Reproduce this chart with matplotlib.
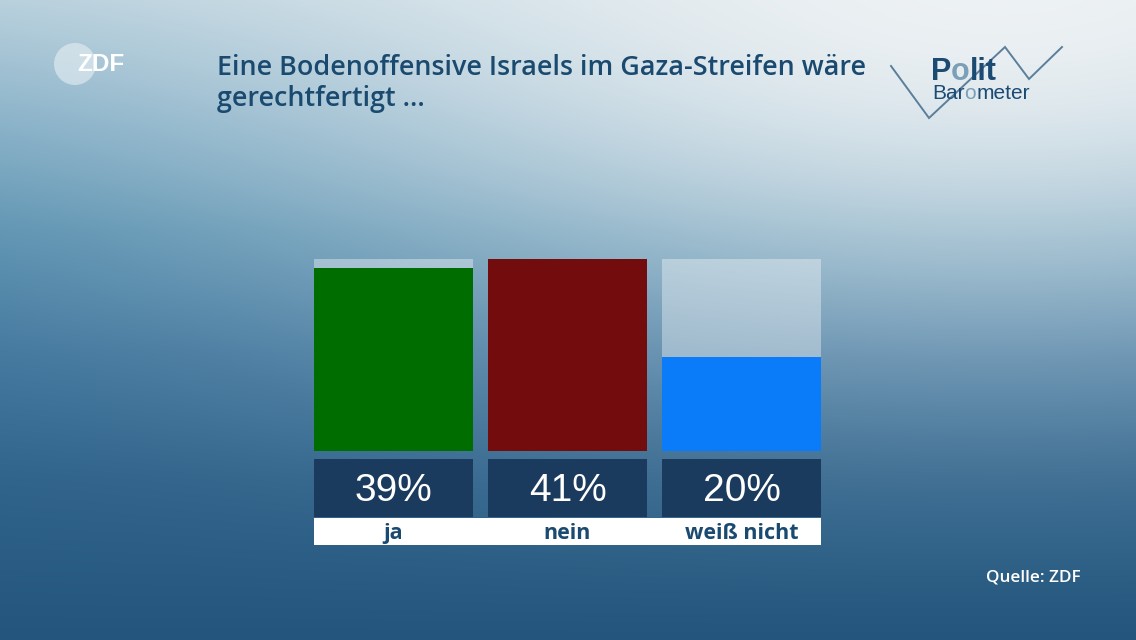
import numpy as np
import matplotlib
matplotlib.use("Agg")
import matplotlib.pyplot as plt
from matplotlib.colors import to_rgb
from matplotlib.patches import Circle, Rectangle

# ---- data ----
categories = ["ja", "nein", "weiß nicht"]
values = [39, 41, 20]
value_labels = ["39%", "41%", "20%"]
bar_colors = ["#006d00", "#720c0d", "#0a7bf9"]
title_lines = ["Eine Bodenoffensive Israels im Gaza-Streifen wäre", "gerechtfertigt ..."]
source = "Quelle: ZDF"

W, H = 1136, 640
fig = plt.figure(figsize=(W / 100, H / 100), dpi=100)
renderer = fig.canvas.get_renderer()

def px_axes(x0, y0, x1, y1, **kw):
    return fig.add_axes([x0 / W, 1 - y1 / H, (x1 - x0) / W, (y1 - y0) / H], **kw)

def fit_width(t, target_px):
    w = t.get_window_extent(renderer=renderer).width
    t.set_fontsize(t.get_fontsize() * target_px / w)

# ---- background gradient ----
bg = px_axes(0, 0, W, H)
xs = np.arange(W)[None, :] + 0.5
ys = np.arange(H)[:, None] + 0.5
v = ys / H
stops_v = [0.0, 0.2, 0.36, 0.55, 0.75, 1.0]
stops_c = np.array([to_rgb(c) for c in ["#abc8d7", "#74a4bf", "#4f8aab", "#3b729a", "#2d6189", "#24567d"]])
base = np.stack([np.interp(v[:, 0], stops_v, stops_c[:, k]) for k in range(3)], axis=-1)[:, None, :]
d2 = ((xs - 1000) / 800) ** 2 + ((ys + 50) / 450) ** 2
g = (np.exp(-d2) * (1 - v ** 2))[..., None]
white = np.array(to_rgb("#eef2f4"))[None, None, :]
img = base * (1 - g) + white * g
bg.imshow(img, extent=(0, W, H, 0), aspect="auto", interpolation="bilinear")
bg.set_xlim(0, W)
bg.set_ylim(H, 0)
bg.axis("off")

# ZDF logo
bg.add_patch(Circle((75, 64), 21, color="#e4eef2", alpha=0.62, lw=0))
bg.text(101, 64.5, "ZDF", color="white", fontsize=17.5, fontweight="bold",
        family="Liberation Sans", ha="center", va="center")

# Politbarometer logo
zx = [891, 929, 1005, 1029, 1062]
zy = [66, 118, 47, 79, 47]
bg.plot(zx, zy, color="#5b7f9b", lw=1.4, solid_joinstyle="miter")

def piece(x, y, s, col, size, weight):
    t = bg.text(x, y, s, color=col, fontsize=size, fontweight=weight,
                family="Liberation Sans", va="baseline")
    return x + t.get_window_extent(renderer=renderer).width * W / fig.bbox.width

x = piece(931, 80, "P", "#1b4a73", 22, "bold")
x = piece(x, 80, "o", "#7c9fb8", 22, "bold")
x = piece(x, 80, "lit", "#1b4a73", 22, "bold")
x = piece(932, 99, "Bar", "#1b4a73", 15, "normal")
x = piece(x, 99, "o", "#7c9fb8", 15, "normal")
x = piece(x, 99, "meter", "#1b4a73", 15, "normal")

# title
t0 = fig.text(217 / W, 1 - 75 / H, title_lines[0], color="#1a4a6f", fontsize=17,
              fontweight="semibold", family="Open Sans", va="baseline", ha="left")
fit_width(t0, 647)
fig.text(217 / W, 1 - 106 / H, title_lines[1], color="#1a4a6f", fontsize=t0.get_fontsize(),
         fontweight="semibold", family="Open Sans", va="baseline", ha="left")

ts = fig.text(1081 / W, 1 - 582 / H, source, color="white", fontsize=12,
              fontweight="semibold", family="Open Sans", ha="right", va="baseline")
fit_width(ts, 95)

# ---- bars ----
x_pos = np.arange(len(categories))
bw = 0.913
xl = (-bw / 2, len(categories) - 1 + bw / 2)
ymax = max(values)

ax = px_axes(314, 259, 821, 451)
ax.bar(x_pos, [ymax] * len(values), width=bw, color="white", alpha=0.36, lw=0)
ax.bar(x_pos, values, width=bw, color=bar_colors, lw=0)
ax.set_xlim(*xl)
ax.set_ylim(0, ymax)
ax.axis("off")

axv = px_axes(314, 459, 821, 517)
axv.bar(x_pos, [1] * len(values), width=bw, color="#1b3b5e", lw=0)
for xi, lab in zip(x_pos, value_labels):
    axv.text(xi, 0.44, lab, color="white", fontsize=28, family="Liberation Sans",
             ha="center", va="center")
axv.set_xlim(*xl)
axv.set_ylim(0, 1)
axv.axis("off")

axl = px_axes(314, 518, 821, 545)
axl.add_patch(Rectangle((xl[0], 0), xl[1] - xl[0], 1, color="white", lw=0))
lab_texts = []
for xi, lab in zip(x_pos, categories):
    lab_texts.append(axl.text(xi, 0.42, lab, color="#1b4a70", fontsize=16, fontweight="bold",
                              family="Open Sans", ha="center", va="center"))
ref = lab_texts[categories.index("weiß nicht")]
w = ref.get_window_extent(renderer=renderer).width
for t in lab_texts:
    t.set_fontsize(16 * 114 / w)
axl.set_xlim(*xl)
axl.set_ylim(0, 1)
axl.axis("off")

fig.savefig("out.png", dpi=100)
